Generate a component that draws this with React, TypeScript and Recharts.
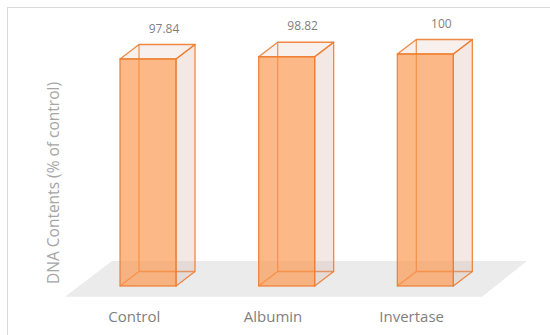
import { BarChart, Bar, XAxis, YAxis, LabelList } from 'recharts';

const categories = ['Control', 'Albumin', 'Invertase'];
const dnaContents = [97.84, 98.82, 100];

const W = 542;
const H = 327;
const MARGIN = { top: 46, right: 55, bottom: 19, left: 0 };
const Y_AXIS_W = 71;
const DX = 19;
const DY = 14.5;
const ORANGE = '#ed7d31';
const FONT = "'Open Sans', sans-serif";

const data = categories.map((name, i) => ({ name, value: dnaContents[i] }));

function Box3D(props: any) {
  const { x, y, width, height, index } = props;
  const x0 = x, x1 = x + width, y0 = y, y1 = y + height;
  const bx0 = x0 + DX, bx1 = x1 + DX, by0 = y0 - DY, by1 = y1 - DY;
  const plotLeft = MARGIN.left + Y_AXIS_W;
  const plotRight = W - MARGIN.right;
  const line = { stroke: ORANGE, strokeWidth: 1.3, strokeOpacity: 0.9 };
  return (
    <g>
      {index === 0 && (
        <polygon
          points={`${plotLeft - 14},${y1 + 10.7} ${plotRight - 13},${y1 + 10.7} ${plotRight + 32},${y1 - 25} ${plotLeft + 33},${y1 - 25}`}
          fill="#ebebeb"
        />
      )}
      {/* hidden edges seen through the front */}
      <line x1={bx0} y1={by0} x2={bx0} y2={by1} {...line} />
      <line x1={bx0} y1={by1} x2={bx1} y2={by1} {...line} />
      <line x1={x0} y1={y1} x2={bx0} y2={by1} {...line} />
      <polygon
        points={`${x1},${y0} ${bx1},${by0} ${bx1},${by1} ${x1},${y1}`}
        fill="rgba(215,180,165,0.3)" strokeLinejoin="round" {...line}
      />
      <polygon
        points={`${x0},${y0} ${bx0},${by0} ${bx1},${by0} ${x1},${y0}`}
        fill="rgba(225,195,180,0.25)" strokeLinejoin="round" {...line}
      />
      <rect x={x0} y={y0} width={width} height={height} fill="rgba(252,150,78,0.68)" {...line} />
    </g>
  );
}

function ValueLabel(props: any) {
  const { x, y, width, value } = props;
  return (
    <text x={x + width / 2 + 16} y={y - DY - 12} textAnchor="middle" fill="#7f7f7f" fontSize={12} fontFamily={FONT}>
      {value}
    </text>
  );
}

function CategoryTick(props: any) {
  const { x, y, payload } = props;
  return (
    <text x={x - 14} y={y + 36} textAnchor="middle" fill="#7f7f7f" fontSize={15} fontFamily={FONT}>
      {payload.value}
    </text>
  );
}

function AxisTitle(props: any) {
  const { viewBox } = props;
  const cx = viewBox.x + 44.7;
  const cy = viewBox.y + viewBox.height / 2 + 13;
  return (
    <text
      x={cx} y={cy} textAnchor="middle" dominantBaseline="central"
      transform={`rotate(-90, ${cx}, ${cy})`}
      fill="#a6a6a6" fontSize={15.5} fontFamily={FONT}
    >
      DNA Contents (% of control)
    </text>
  );
}

export default function App() {
  return (
    <div style={{
      position: 'absolute', left: 7, top: 7, width: W, height: H,
      borderTop: '1px solid #d9d9d9', borderLeft: '1px solid #d9d9d9', background: '#fff',
    }}>
      <BarChart width={W} height={H} data={data} margin={MARGIN}>
        <XAxis dataKey="name" axisLine={false} tickLine={false} tickSize={0} tickMargin={0} height={30} tick={<CategoryTick />} />
        <YAxis domain={[0, 100]} width={Y_AXIS_W} tick={false} axisLine={false} tickLine={false} label={{ content: <AxisTitle /> }} />
        <Bar dataKey="value" barSize={56} shape={<Box3D />} isAnimationActive={false}>
          <LabelList dataKey="value" content={<ValueLabel />} />
        </Bar>
      </BarChart>
    </div>
  );
}
